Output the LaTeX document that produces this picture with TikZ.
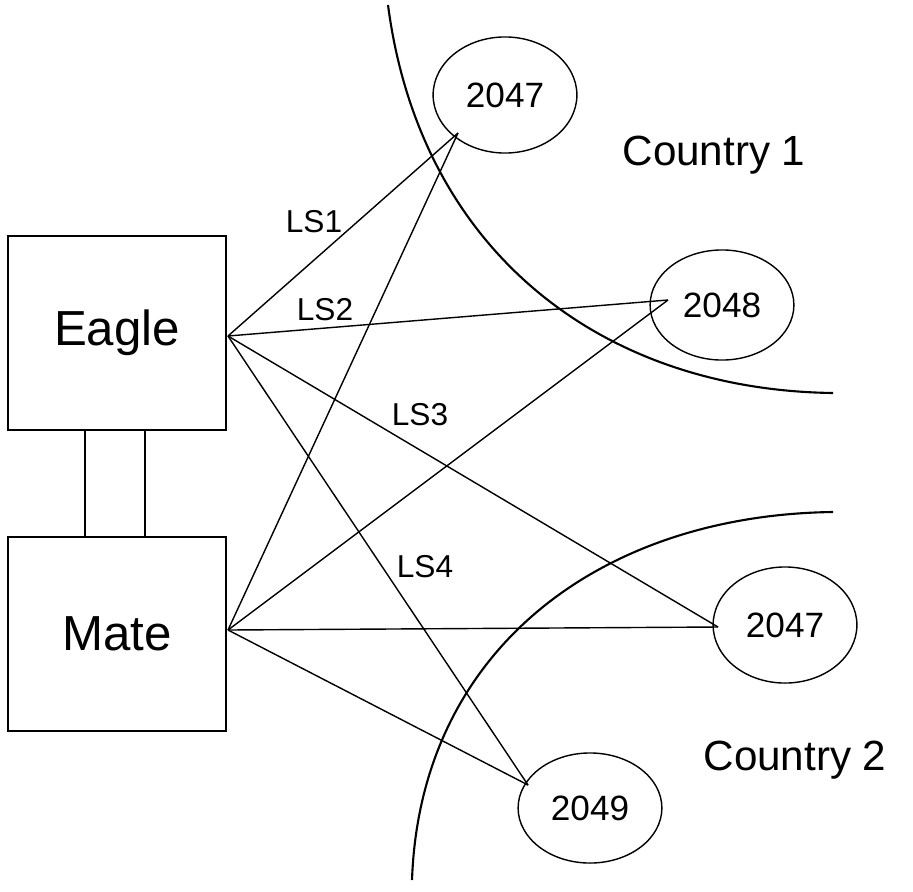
\documentclass[tikz,border=0pt]{standalone}
\usepackage{fontspec}
\setmainfont{Liberation Sans}
\usetikzlibrary{positioning,calc,shapes.geometric}
\begin{document}
\begin{tikzpicture}[
    x=0.01cm,y=-0.01cm,
    box/.style={draw, thick, minimum width=2.18cm, minimum height=1.94cm, font=\fontsize{14}{16}\selectfont},
    site/.style={draw, ellipse, font=\fontsize{10}{12}\selectfont},
    ls_label/.style={font=\fontsize{9}{11}\selectfont},
    region_label/.style={font=\fontsize{12}{14}\selectfont},
    link/.style={draw}
    ]
    \useasboundingbox (0,0) rectangle (913,891);
    % Stations
    \node[box] (eagle) at (117,333) {Eagle};
    \node[box] (mate) at (117,634) {Mate};
    \draw (85,430) -- (85,538);
    \draw (145,430) -- (145,538);
    % Sites
    \node[site, minimum width=1.36cm, minimum height=1.16cm] (s1) at (505,95) {2047};
    \node[site, minimum width=1.10cm, minimum height=1.10cm] (s2) at (722,305) {2048};
    \node[site, minimum width=1.40cm, minimum height=1.16cm] (s3) at (785,625) {2047};
    \node[site, minimum width=1.10cm, minimum height=1.10cm] (s4) at (590,808) {2049};
    % Link ends
    \coordinate (e) at (228,336);
    \coordinate (m) at (228,630);
    \coordinate (p1) at (458,133);
    \coordinate (p2) at (668,300);
    \coordinate (p3) at (718,627);
    \coordinate (p4) at (528,785);
    \foreach \p in {p1,p2,p3,p4} {
        \draw (e) -- (\p);
        \draw (m) -- (\p);
    }
    % Labels
    \node[ls_label] (ls1) at (314,222) {LS1};
    \node[ls_label] (ls2) at (325,310) {LS2};
    \node[ls_label] (ls3) at (420,415) {LS3};
    \node[ls_label] (ls4) at (425,567) {LS4};
    \node[region_label] (c1) at (714,155) {Country 1};
    \node[region_label] (c2) at (795,760) {Country 2};
    % Borders
    \draw[semithick] (388,5) .. controls (420,250) and (600,390) .. (833,393);
    \draw[semithick] (412,880) .. controls (420,650) and (600,515) .. (833,512);
\end{tikzpicture}
\end{document}
